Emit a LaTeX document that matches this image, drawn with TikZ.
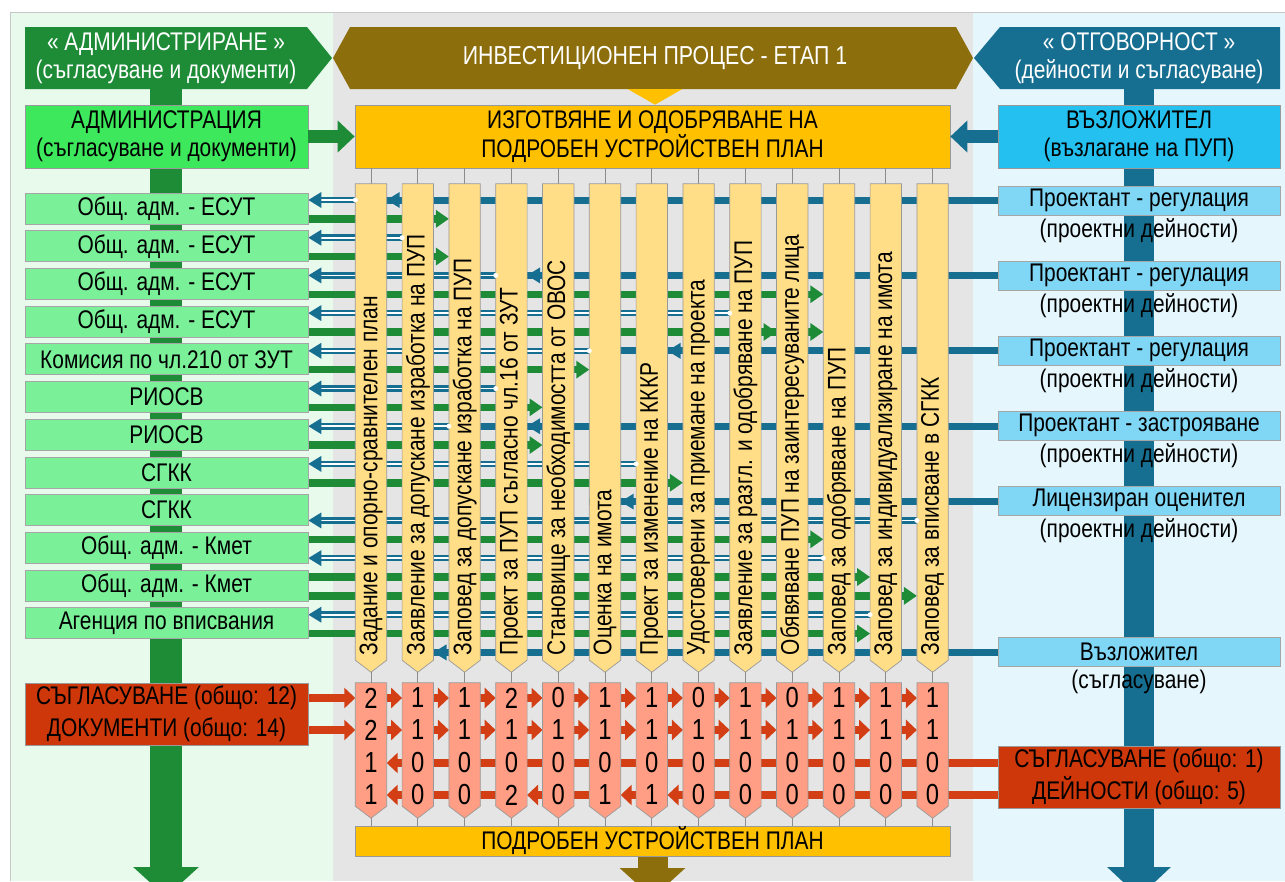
\documentclass[tikz,border=0pt]{standalone}
\usepackage{fontspec}
\setmainfont[FakeStretch=0.82]{Liberation Sans}
\usetikzlibrary{arrows.meta,calc}

\definecolor{panelL}{RGB}{232,250,236}
\definecolor{panelC}{RGB}{229,229,229}
\definecolor{panelR}{RGB}{229,246,252}
\definecolor{hgreen}{RGB}{30,140,55}
\definecolor{agreen}{RGB}{62,232,92}
\definecolor{lgreen}{RGB}{122,240,152}
\definecolor{hbrown}{RGB}{140,110,12}
\definecolor{gold}{RGB}{255,192,0}
\definecolor{pale}{RGB}{255,222,135}
\definecolor{tdark}{RGB}{22,110,145}
\definecolor{cyanA}{RGB}{35,192,240}
\definecolor{cyanB}{RGB}{128,214,245}
\definecolor{salmon}{RGB}{255,158,132}
\definecolor{redfill}{RGB}{205,55,10}
\definecolor{rarr}{RGB}{212,62,20}

\newcommand\fz[2]{\fontsize{#1pt}{#2pt}\selectfont}
\pgfdeclarelayer{back}
\pgfdeclarelayer{mid}
\pgfsetlayers{back,mid,main}

\begin{document}
\begin{tikzpicture}[x=1pt,y=-1pt,
  declare function={cx(\i)=371+46.8*(\i-1); ry(\n)=200+18.85*\n;},
  txt/.style={font=\fz{25.5}{28}, inner sep=0pt, align=center},
  lbox/.style={txt, draw=black!35, line width=0.7pt, fill=lgreen, minimum width=283pt, minimum height=31pt},
  rbox/.style={txt, draw=black!35, line width=0.7pt, fill=cyanB, minimum width=282pt, minimum height=29pt},
  bigbox/.style={txt, draw=black!40, line width=0.7pt, minimum height=63pt},
  redbox/.style={txt, draw=black!40, line width=0.7pt, fill=redfill, minimum width=283pt, minimum height=62pt, font=\fz{25.5}{32}},
  colnode/.style={minimum width=31pt, minimum height=476pt, inner sep=0pt},
  pnode/.style={minimum width=31pt, minimum height=123pt, inner sep=0pt},
  num/.style={font=\fz{29}{30}, inner sep=0pt},
  shapeline/.style={draw=black!40, line width=0.7pt},
  garrow/.style={draw=hgreen, line width=7.5pt, -{Triangle[length=13pt,width=17pt]}},
  tline/.style={draw=tdark, line width=7pt},
  dline/.style={draw=tdark, double=white, double distance=1.8pt, line width=2.4pt},
  rarrow/.style={draw=rarr, line width=8pt, -{Triangle[length=11pt,width=20pt]}},
  rbar/.style={draw=rarr, line width=8pt},
  tick/.style={draw=black!45, line width=0.7pt},
]
\useasboundingbox (0,0) rectangle (1285,881);

% ---------- panels ----------
\begin{pgfonlayer}{back}
  \fill[white] (0,0) rectangle (1285,881);
  \fill[panelL] (10,12) rectangle (333,881);
  \fill[panelC] (333,12) rectangle (973,881);
  \fill[panelR] (973,12) rectangle (1285,881);
  \draw[black!22, line width=0.8pt] (10,881) -- (10,12) -- (1285,12);
\end{pgfonlayer}

% ---------- headers ----------
\fill[hgreen] (25,27) -- (307,27) -- (332,58) -- (307,89) -- (25,89) -- cycle;
\node[txt, text=white, minimum width=282pt, minimum height=62pt] (HL) at (166,58)
  {« АДМИНИСТРИРАНЕ »\\(съгласуване и документи)};
\fill[hbrown] (333,58) -- (350,27) -- (956,27) -- (973,58) -- (956,89) -- (350,89) -- cycle;
\node[txt, text=white, minimum width=606pt, minimum height=62pt, font=\fz{26}{28}] (HC) at (655,58)
  {ИНВЕСТИЦИОНЕН ПРОЦЕС - ЕТАП 1};
\fill[tdark] (974,58) -- (1000,27) -- (1280,27) -- (1280,89) -- (1000,89) -- cycle;
\node[txt, text=white, minimum width=282pt, minimum height=62pt] (HR) at (1139,58)
  {« ОТГОВОРНОСТ »\\(дейности и съгласуване)};

% ---------- top row ----------
\node[bigbox, fill=agreen, minimum width=283pt] (A) at (166.5,136.5)
  {АДМИНИСТРАЦИЯ\\(съгласуване и документи)};
\node[bigbox, fill=gold, minimum width=595pt] (Y) at (652.5,136.5)
  {ИЗГОТВЯНЕ И ОДОБРЯВАНЕ НА\\ПОДРОБЕН УСТРОЙСТВЕН ПЛАН};
\node[bigbox, fill=cyanA, minimum width=282pt] (V) at (1139,136.5)
  {ВЪЗЛОЖИТЕЛ\\(възлагане на ПУП)};
\draw[hgreen, line width=13pt, -{Triangle[length=17pt,width=31pt]}] (A.east) -- (Y.west);
\draw[tdark, line width=13pt, -{Triangle[length=17pt,width=31pt]}] (V.west) -- (Y.east);
\fill[gold] ($(HC.south)+(-27,0)$) -- ($(HC.south)+(27,0)$) -- (Y.north -| HC.south) -- cycle;

% ---------- bottom bar ----------
\node[bigbox, fill=gold, minimum width=595pt, minimum height=30pt] (BB) at (652.5,841)
  {ПОДРОБЕН УСТРОЙСТВЕН ПЛАН};

% ---------- spines ----------
\coordinate (gEnd) at (166,897);
\coordinate (tEnd) at (1139,897);
\coordinate (bEnd) at (652.5,898);
\begin{pgfonlayer}{back}
  \draw[hgreen, line width=32pt, -{Triangle[length=30pt,width=64pt]}] (HL.south) -- (gEnd);
  \draw[tdark, line width=30pt, -{Triangle[length=30pt,width=62pt]}] (HR.south) -- (tEnd);
  \draw[hbrown, line width=30pt, -{Triangle[length=30pt,width=64pt]}] (BB.south) -- (bEnd);
\end{pgfonlayer}

% ---------- left: administration ----------
\foreach \k/\t in {1/Общ. адм. - ЕСУТ, 2/Общ. адм. - ЕСУТ, 3/Общ. адм. - ЕСУТ,
                   4/Общ. адм. - ЕСУТ, 5/Комисия по чл.210 от ЗУТ, 6/РИОСВ, 7/РИОСВ,
                   8/СГКК, 9/СГКК, 10/Общ. адм. - Кмет, 11/Общ. адм. - Кмет,
                   12/Агенция по вписвания}
  \node[lbox] (L\k) at (166.5,{208.5+37.7*(\k-1)}) {\t};

% ---------- right: responsible parties ----------
\foreach \j/\y/\t/\s in {1/200.5/Проектант - регулация/(проектни дейности),
                         2/275.5/Проектант - регулация/(проектни дейности),
                         3/350.5/Проектант - регулация/(проектни дейности),
                         4/425.5/Проектант - застрояване/(проектни дейности),
                         5/500.5/Лицензиран оценител/(проектни дейности),
                         6/652/Възложител/(съгласуване)}{
  \node[rbox] (R\j) at (1139,\y) {\t};
  \node[txt] (S\j) at (1139,\y+30) {\s};
}

% ---------- row levels ----------
\foreach \n in {0,...,24} \coordinate (r\n) at (0,{ry(\n)});
\coordinate (q1) at (0,698);
\coordinate (q2) at (0,730);
\coordinate (q3) at (0,763);
\coordinate (q4) at (0,795);

% ---------- activity columns ----------
\foreach \i/\t in {1/{Задание и опорно-сравнителен план},
                   2/{Заявление за допускане изработка на ПУП},
                   3/{Заповед за допускане изработка на ПУП},
                   4/{Проект за ПУП съгласно чл.16 от ЗУТ},
                   5/{Становище за необходимостта от ОВОС},
                   6/{Оценка на имота},
                   7/{Проект за изменение на КККР},
                   8/{Удостоверени за приемане на проекта},
                   9/{Заявление за разгл. и одобряване на ПУП},
                   10/{Обявяване ПУП на заинтересуваните лица},
                   11/{Заповед за одобряване на ПУП},
                   12/{Заповед за индивидуализиране на имота},
                   13/{Заповед за вписване в СГКК}}{
  \node[colnode] (C\i) at ({cx(\i)},422) {};
  \draw[tick] (Y.south -| C\i.north) -- (C\i.north);
  \filldraw[fill=pale, shapeline] (C\i.north west) -- (C\i.north east) -- (C\i.south east)
     -- ($(C\i.south)+(0,12)$) -- (C\i.south west) -- cycle;
  \node[txt, rotate=90, anchor=west] at ($(C\i.south)+(0,-5)$) {\t};
}

% ---------- counters ----------
\node[redbox] (LR) at (166.5,714) {СЪГЛАСУВАНЕ (общо: 12)\\ДОКУМЕНТИ (общо: 14)};
\node[redbox, minimum width=282pt] (RR) at (1139,777) {СЪГЛАСУВАНЕ (общо: 1)\\ДЕЙНОСТИ (общо: 5)};

\foreach \i/\a/\b/\c/\d in {1/2/2/1/1, 2/1/1/0/0, 3/1/1/0/0, 4/2/1/0/2, 5/0/1/0/0,
                            6/1/1/0/1, 7/1/1/0/1, 8/0/1/0/0, 9/1/1/0/0, 10/0/1/0/0,
                            11/1/1/0/0, 12/1/1/0/0, 13/1/1/0/0}{
  \node[pnode] (P\i) at ({cx(\i)},744.5) {};
  \draw[tick] ($(C\i.south)+(0,12)$) -- (P\i.north);
  \draw[tick] ($(P\i.south)+(0,12)$) -- (BB.north -| P\i.south);
  \filldraw[fill=salmon, shapeline] (P\i.north west) -- (P\i.north east) -- (P\i.south east)
     -- ($(P\i.south)+(0,12)$) -- (P\i.south west) -- cycle;
  \node[num] at (P\i.center |- q1) {\a};
  \node[num] at (P\i.center |- q2) {\b};
  \node[num] at (P\i.center |- q3) {\c};
  \node[num] at (P\i.center |- q4) {\d};
}

% ---------- flows ----------
\begin{pgfonlayer}{mid}
  % documents issued by the administration
  \foreach \n/\k/\c in {1/1/3, 3/2/3, 5/3/11, 7/4/10, 7/4/11, 9/5/6, 11/6/5, 13/7/5,
                        15/8/8, 18/10/11, 20/11/12, 21/11/13, 23/12/12}
    \draw[garrow] (L\k.east |- r\n) -- (C\c.west |- r\n);
  % work delivered by the responsible parties
  \foreach \n/\j/\a/\e in {0/1/1/1, 4/2/4/4, 8/3/7/6, 12/4/4/3, 16/5/6/6, 24/6/2/2}{
    \draw[tline] (R\j.west |- r\n) -- (C\e.west |- r\n);
    \fill[tdark] (C\a.east |- r\n) -- ++(13,-8) -- ++(0,16) -- cycle;
  }
  % documents sent for approval
  \foreach \n/\c/\k in {0/1/1, 2/2/2, 4/4/3, 6/9/4, 8/6/5, 10/4/6, 12/3/7, 14/7/8,
                        17/13/9, 19/11/10, 22/12/12}{
    \draw[dline] (C\c.west |- r\n) -- ($(L\k.east |- r\n)+(10,0)$);
    \fill[tdark] (L\k.east |- r\n) -- ++(13,-8) -- ++(0,16) -- cycle;
  }
  % counter chains
  \draw[rarrow] (LR.east |- q1) -- (P1.west |- q1);
  \draw[rarrow] (LR.east |- q2) -- (P1.west |- q2);
  \foreach \i [evaluate=\i as \j using int(\i+1)] in {1,...,12}{
    \draw[rarrow] (P\i.east |- q1) -- (P\j.west |- q1);
    \draw[rarrow] (P\i.east |- q2) -- (P\j.west |- q2);
  }
  \draw[rarrow] (P2.west |- q3) -- (P1.east |- q3);
  \foreach \i [evaluate=\i as \j using int(\i+1)] in {2,...,12}
    \draw[rbar] (P\i.east |- q3) -- (P\j.west |- q3);
  \foreach \i/\j in {1/2, 4/5, 6/7, 7/8}
    \draw[rarrow] (P\j.west |- q4) -- (P\i.east |- q4);
  \foreach \i/\j in {2/3, 3/4, 5/6, 8/9, 9/10, 10/11, 11/12, 12/13}
    \draw[rbar] (P\i.east |- q4) -- (P\j.west |- q4);
  \draw[rbar] (P13.east |- q3) -- (RR.west |- q3);
  \draw[rbar] (P13.east |- q4) -- (RR.west |- q4);
\end{pgfonlayer}

% start points of approval requests
\foreach \n/\c in {0/1, 2/2, 4/4, 6/9, 8/6, 10/4, 12/3, 14/7, 17/13, 19/11, 22/12}
  \fill[white] (C\c.west |- r\n) circle (2.5);

\end{tikzpicture}
\end{document}
